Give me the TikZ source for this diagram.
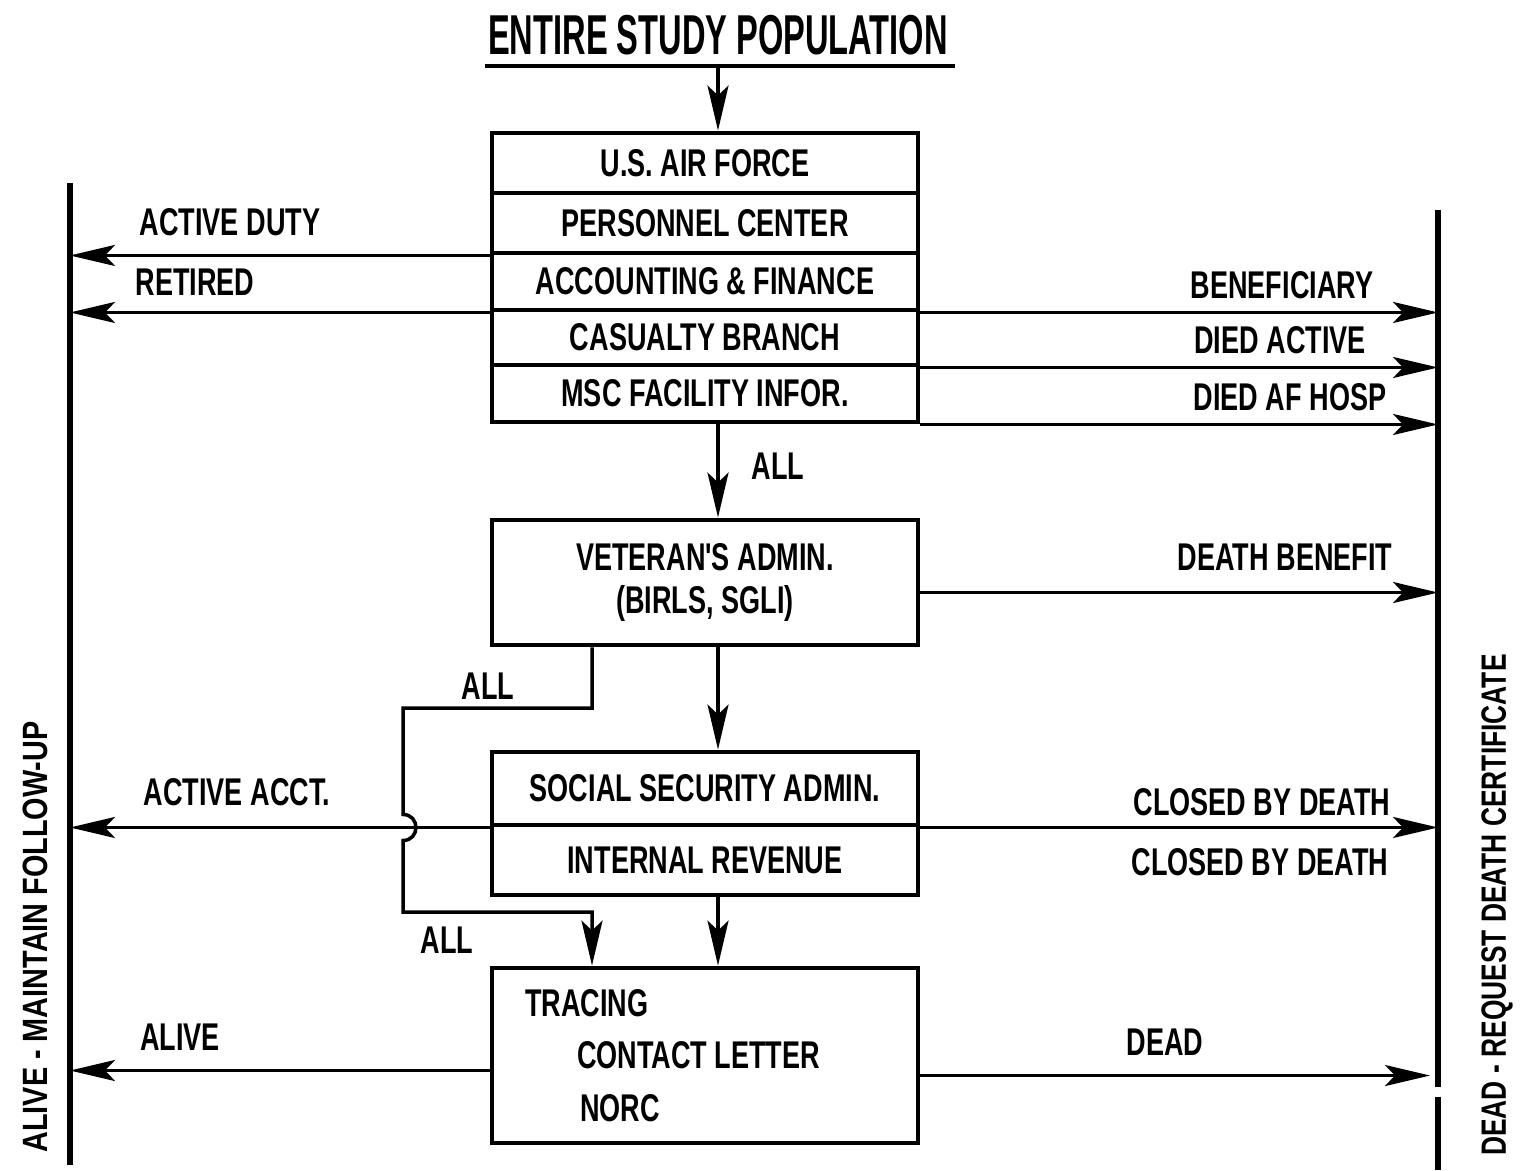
\documentclass[tikz,border=0pt]{standalone}
\usepackage{fontspec}
\setmainfont{Liberation Sans}
\newfontfamily\boxfont{Liberation Sans}[FakeStretch=0.7]
\newfontfamily\headfont{Liberation Sans}[FakeStretch=0.58]
\newfontfamily\sidefont{Liberation Sans}[FakeStretch=0.82]
\newfontfamily\sidefontb{Liberation Sans}[FakeStretch=0.75]
\usetikzlibrary{arrows.meta}

\tikzset{
    row/.style={draw, line width=1.4pt, minimum width=42.6mm, inner sep=0pt,
        font=\boxfont\bfseries\fontsize{11}{12.5}\selectfont},
    lbl/.style={inner sep=0pt, font=\boxfont\bfseries\fontsize{11}{13}\selectfont},
    side/.style={inner sep=0pt, rotate=90, font=\sidefont\bfseries\fontsize{10}{12}\selectfont},
    arr/.style={line width=1pt, -{Stealth[length=4.5mm, width=2.1mm, inset=1mm]}},
    wall/.style={line width=1.7pt}
}

\begin{document}
\begin{tikzpicture}[x=0.1mm, y=-0.1mm]
        \useasboundingbox (0, 0) rectangle (1521, 1170);

        % title
        \node[inner sep=0pt, font=\headfont\bfseries\fontsize{16}{18}\selectfont] (pop) at (718, 35) {ENTIRE STUDY POPULATION};
        \coordinate (ul) at (718, 66);
        \draw[line width=1.4pt] (485, 66) -- (955, 66);

        % side lines
        \coordinate (lt) at (70, 183);
        \coordinate (lb) at (70, 1165);
        \coordinate (rt) at (1438, 210);
        \coordinate (rb) at (1438, 1170);
        \draw[wall] (lt) -- (lb);
        \draw[wall] (rt) -- (1438, 1087) (1438, 1097) -- (rb);
        \node[side] (alive) at (35, 937) {ALIVE - MAINTAIN FOLLOW-UP};
        \node[side, font=\sidefontb\bfseries\fontsize{10}{12}\selectfont] (dead) at (1497, 905) {DEAD - REQUEST DEATH CERTIFICATE};

        % air force
        \node[row, minimum height=6mm] (af) at (705, 163) {U.S. AIR FORCE};
        \node[row, minimum height=6mm] (pc) at (705, 223) {PERSONNEL CENTER};
        \node[row, minimum height=5.7mm] (acc) at (705, 281.5) {ACCOUNTING \& FINANCE};
        \node[row, minimum height=5.5mm] (cas) at (705, 337.5) {CASUALTY BRANCH};
        \node[row, minimum height=5.7mm] (msc) at (705, 393.5) {MSC FACILITY INFOR.};
        \draw[arr] (ul) -- (af.north -| ul);

        \draw[arr] (pc.south west) -- (pc.south west -| lt);
        \draw[arr] (acc.south west) -- (acc.south west -| lt);
        \node[lbl] (duty) at (230, 222) {ACTIVE DUTY};
        \node[lbl] (ret) at (195, 282) {RETIRED};

        \draw[arr] (acc.south east) -- (acc.south east -| rt);
        \draw[arr] (cas.south east) -- (cas.south east -| rt);
        \draw[arr] (msc.south east) -- (msc.south east -| rt);
        \node[lbl] (benef) at (1282, 285) {BENEFICIARY};
        \node[lbl] (dact) at (1280, 340) {DIED ACTIVE};
        \node[lbl] (dhosp) at (1290, 397) {DIED AF HOSP};

        % veterans
        \node[row, minimum height=12.5mm, align=center] (va) at (705, 582.5) {VETERAN'S ADMIN.\\(BIRLS, SGLI)};
        \draw[arr] (msc.south -| ul) -- (va.north -| ul);
        \node[lbl] (all1) at (778, 466) {ALL};
        \draw[arr] ([yshift=-1mm]va.east) -- ([yshift=-1mm]va.east -| rt);
        \node[lbl] (dben) at (1285, 557) {DEATH BENEFIT};

        % social security
        \node[row, minimum height=7.3mm] (ss) at (705, 788.5) {SOCIAL SECURITY ADMIN.};
        \node[row, minimum height=7mm] (ir) at (705, 860) {INTERNAL REVENUE};
        \draw[arr] (va.south -| ul) -- (ss.north -| ul);
        \draw[arr] (ss.south west) -- (ss.south west -| lt);
        \draw[arr] (ss.south east) -- (ss.south east -| rt);
        \node[lbl] (acct) at (237, 792) {ACTIVE ACCT.};
        \node[lbl] (cl1) at (1262, 802) {CLOSED BY DEATH};
        \node[lbl] (cl2) at (1260, 862) {CLOSED BY DEATH};

        % tracing
        \node[row, minimum height=17.5mm, text width=36mm, inner xsep=3.3mm, inner ysep=0pt, align=flush left,
            font=\boxfont\bfseries\fontsize{11}{15}\selectfont] (tr) at (705, 1055.5)
            {TRACING\\\hspace*{5.2mm}CONTACT LETTER\\\hspace*{5.5mm}NORC\\[1mm]};
        \draw[arr] (ir.south -| ul) -- (tr.north -| ul);

        % bypass with hop
        \coordinate (jog) at (403, 708);
        \coordinate (hop) at (jog |- ss.south west);
        \coordinate (turn) at (403, 912);
        \draw[arr] ([xshift=-11.3mm]va.south) |- (jog) -- ([yshift=1.3mm]hop)
            to[out=0, in=0, looseness=1.7] ([yshift=-1.3mm]hop) -- (turn) -| ([xshift=-11.3mm]tr.north);
        \node[lbl] (all2) at (488, 686) {ALL};
        \node[lbl] (all3) at (447, 940) {ALL};

        \draw[arr] ([yshift=-1.5mm]tr.west) -- ([yshift=-1.5mm]tr.west -| lt);
        \draw[arr, shorten >=0.8mm] ([yshift=-2mm]tr.east) -- ([yshift=-2mm]tr.east -| rt);
        \node[lbl] (alv) at (180, 1037) {ALIVE};
        \node[lbl] (dd) at (1165, 1042) {DEAD};
    \end{tikzpicture}
\end{document}
